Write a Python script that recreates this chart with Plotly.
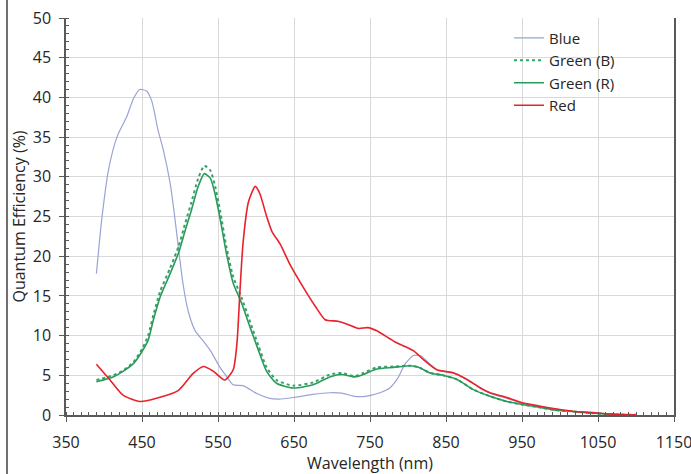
import plotly.graph_objects as go

# ---- data ----
blue_wl = [390, 397, 406, 417, 430, 439, 447, 456, 463, 471, 478, 487, 493, 498, 504, 511, 520, 530,
           540, 552, 561, 570, 583, 601, 618, 630, 649, 675, 697, 713, 730, 744, 763, 776, 787, 796,
           807, 816, 827, 838, 864, 886, 908, 930, 952, 974, 996, 1017, 1039, 1061, 1080, 1100]
blue_qe = [17.8, 24.6, 30.9, 35.0, 37.6, 39.9, 41.0, 40.8, 39.5, 35.9, 33.4, 29.2, 25.0, 21.0, 16.5, 13.0, 10.6, 9.4,
           8.1, 6.1, 4.9, 3.8, 3.7, 2.7, 2.1, 2.0, 2.2, 2.6, 2.8, 2.75, 2.35, 2.35, 2.8, 3.4, 4.7, 6.4,
           7.5, 7.5, 6.6, 5.7, 5.2, 4.0, 2.75, 2.1, 1.45, 1.05, 0.7, 0.42, 0.3, 0.15, 0.05, 0.02]

green_wl = [390, 412, 425, 439, 450, 458, 465, 474, 487, 498, 507, 515, 524, 532, 540, 546, 553, 561,
            570, 581, 592, 603, 614, 627, 649, 675, 697, 713, 730, 741, 759, 781, 803, 814, 829, 846,
            864, 886, 908, 930, 952, 974, 996, 1017, 1039, 1061, 1080, 1100]
green_r_qe = [4.2, 4.8, 5.5, 6.5, 8.0, 9.4, 12.0, 14.9, 17.8, 20.4, 23.3, 25.8, 28.8, 30.4, 29.8, 27.9, 24.6, 20.4,
              16.6, 14.1, 11.1, 8.2, 5.5, 4.0, 3.4, 3.8, 4.8, 5.1, 4.8, 5.1, 5.8, 6.0, 6.2, 6.0, 5.3, 5.0,
              4.5, 3.2, 2.35, 1.7, 1.3, 0.95, 0.6, 0.45, 0.25, 0.12, 0.05, 0.02]
green_b_qe = [4.4, 5.0, 5.6, 6.7, 8.3, 10.0, 12.6, 15.6, 18.5, 21.2, 24.2, 26.8, 29.8, 31.4, 30.8, 28.9, 25.6, 21.2,
              17.4, 14.8, 11.8, 8.8, 6.0, 4.4, 3.7, 4.1, 5.1, 5.3, 4.9, 5.3, 6.0, 6.1, 6.2, 6.0, 5.3, 5.0,
              4.5, 3.2, 2.35, 1.7, 1.3, 0.95, 0.6, 0.45, 0.25, 0.12, 0.05, 0.02]

red_wl = [390, 408, 425, 447, 469, 498, 517, 531, 544, 559, 570, 575, 579, 583, 590, 599, 605, 614,
          621, 632, 645, 664, 678, 691, 708, 721, 735, 747, 759, 783, 807, 820, 838, 860, 877, 895,
          908, 930, 952, 974, 996, 1018, 1039, 1061, 1079, 1099]
red_qe = [6.4, 4.4, 2.5, 1.7, 2.1, 3.1, 5.2, 6.1, 5.5, 4.4, 5.7, 9.1, 15.8, 21.7, 26.8, 28.8, 27.9, 25.0,
          23.1, 21.5, 18.9, 15.8, 13.7, 12.0, 11.8, 11.4, 10.9, 11.0, 10.6, 9.2, 8.1, 7.0, 5.7, 5.3, 4.5, 3.4,
          2.8, 2.2, 1.5, 1.1, 0.75, 0.45, 0.33, 0.16, 0.05, 0.02]

x_ticks = [350, 450, 550, 650, 750, 850, 950, 1050, 1150]
y_ticks = [0, 5, 10, 15, 20, 25, 30, 35, 40, 45, 50]

FONT = "Open Sans"
TEXT_COLOR = "#262626"
AXIS_COLOR = "#595959"
GRID_COLOR = "#d9d9d9"

fig = go.Figure()
fig.add_trace(go.Scatter(x=blue_wl, y=blue_qe, name="Blue", mode="lines",
                         line=dict(color="#99a3d5", width=1.2, shape="spline", smoothing=0.6)))
fig.add_trace(go.Scatter(x=green_wl, y=green_b_qe, name="Green (B)", mode="lines",
                         line=dict(color="#35a26a", width=2, dash="dot", shape="spline", smoothing=0.6)))
fig.add_trace(go.Scatter(x=green_wl, y=green_r_qe, name="Green (R)", mode="lines",
                         line=dict(color="#2a9a5a", width=1.6, shape="spline", smoothing=0.6)))
fig.add_trace(go.Scatter(x=red_wl, y=red_qe, name="Red", mode="lines",
                         line=dict(color="#e8222a", width=1.6, shape="spline", smoothing=0.6)))

fig.update_layout(
    width=691, height=474,
    margin=dict(l=66, r=17, t=18, b=59, autoexpand=False),
    paper_bgcolor="white", plot_bgcolor="white",
    font=dict(family=FONT, size=16, color=TEXT_COLOR),
    showlegend=True,
    legend=dict(x=0.7286, y=0.991, xanchor="left", yanchor="top",
                bgcolor="rgba(0,0,0,0)", font=dict(family=FONT, size=15, color=TEXT_COLOR),
                tracegroupgap=0),
    shapes=[dict(type="line", xref="paper", yref="paper", x0=-59/608, x1=-59/608,
                 y0=-59/397, y1=1 + 18/397, line=dict(color="#404040", width=1.5))],
)
fig.update_xaxes(
    range=[350, 1150], tickvals=x_ticks, ticktext=[str(v) for v in x_ticks],
    showgrid=True, gridcolor=GRID_COLOR, gridwidth=1.3,
    showline=True, linecolor=AXIS_COLOR, linewidth=1.5,
    ticks="outside", ticklen=5, tickcolor=AXIS_COLOR, tickwidth=1.2, ticklabelstandoff=7,
    ticklabeloverflow="allow",
    minor=dict(dtick=10, ticks="inside", ticklen=3, tickcolor=AXIS_COLOR, tickwidth=1, showgrid=False),
    title=dict(text="Wavelength (nm)", font=dict(size=16), standoff=19),
    zeroline=False, tickfont=dict(size=16), automargin=False,
)
fig.update_yaxes(
    range=[0, 50], tickvals=y_ticks, ticktext=[str(v) for v in y_ticks],
    showgrid=True, gridcolor=GRID_COLOR, gridwidth=1.3,
    showline=True, linecolor=AXIS_COLOR, linewidth=1.5, mirror=True,
    ticks="outside", ticklen=5, tickcolor=AXIS_COLOR, tickwidth=1.2, ticklabelstandoff=5,
    minor=dict(dtick=1, ticks="inside", ticklen=3, tickcolor=AXIS_COLOR, tickwidth=1, showgrid=False),
    title=dict(text="Quantum Efficiency (%)", font=dict(size=16), standoff=3),
    zeroline=False, tickfont=dict(size=16), automargin=False,
)

fig.write_html("out.html", config={"displayModeBar": False},
               post_script="document.body.style.margin='0';document.body.style.overflow='hidden';")
